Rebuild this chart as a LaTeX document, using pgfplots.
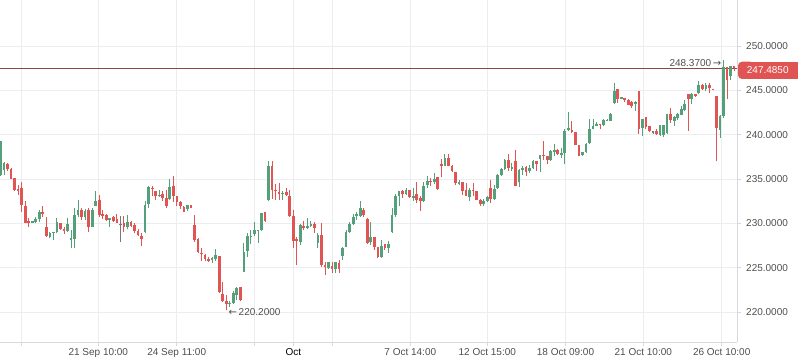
\documentclass[border=0pt]{standalone}
\usepackage{pgfplots}
\pgfplotsset{compat=1.18}
\usepackage{pgfplotstable}
\usepackage{fontspec}
\setmainfont{Liberation Sans}
\newfontfamily\dejavu{DejaVu Sans}
\definecolor{upc}{RGB}{83,160,122}
\definecolor{dnc}{RGB}{224,84,84}
\definecolor{linec}{RGB}{140,72,72}
\definecolor{flatc}{RGB}{120,120,120}
\definecolor{gridc}{RGB}{236,237,240}
\definecolor{axisc}{RGB}{214,218,224}
\definecolor{labc}{RGB}{78,78,78}
\definecolor{boxc}{RGB}{224,84,84}

% up candles: x open high low close
\pgfplotstableread{
x o h l c
0 235.50 239.30 235.30 239.27
1 235.99 236.90 235.50 236.82
9 230.15 230.30 230.10 230.22
10 230.18 230.71 230.03 230.48
11 230.52 231.54 230.22 231.31
14 228.52 229.09 228.33 228.94
15 229.00 229.09 228.14 229.05
16 229.01 230.60 228.90 230.14
19 229.20 230.60 229.09 229.92
20 228.10 229.28 227.28 228.41
21 228.30 231.73 227.28 230.93
22 230.97 232.67 230.71 231.54
24 230.71 231.61 230.41 231.42
26 229.65 231.80 229.60 231.50
27 231.99 233.70 231.99 232.56
31 230.50 230.60 229.65 230.60
36 229.65 230.97 229.35 230.22
41 229.09 232.48 228.90 232.10
42 232.18 234.18 231.80 234.06
45 233.10 233.80 232.97 233.25
48 232.75 235.00 232.60 234.06
53 231.61 232.10 231.46 232.10
60 226.00 226.18 225.58 226.10
61 225.96 227.12 225.80 226.44
65 221.00 221.32 220.60 221.05
66 221.05 222.41 220.97 222.18
67 221.92 222.86 221.35 222.79
69 224.56 227.84 224.56 226.83
70 226.94 228.90 226.26 228.60
71 228.56 229.28 227.69 228.60
72 228.82 230.22 228.60 229.28
73 229.20 229.28 227.84 229.28
74 229.28 231.20 229.20 231.16
76 232.67 237.08 232.48 236.52
80 233.35 233.61 232.60 233.42
85 227.96 229.95 227.58 229.84
87 229.62 230.60 229.35 229.70
88 229.84 230.33 229.58 229.88
90 227.77 228.90 227.20 228.71
93 224.94 225.69 224.83 225.69
95 224.83 225.69 224.37 225.69
97 226.33 227.39 225.88 227.28
98 227.39 229.28 227.31 229.09
99 229.09 230.22 228.90 229.95
100 229.95 231.09 229.84 230.78
101 230.86 231.35 230.41 231.05
102 230.86 232.48 230.78 231.73
105 227.96 230.22 227.58 228.52
108 226.26 228.14 226.07 227.46
110 227.20 228.03 226.71 227.69
111 229.09 231.73 228.97 230.97
112 230.97 233.31 230.78 233.12
113 233.05 233.69 231.92 233.69
115 233.35 233.95 233.20 233.80
117 233.00 233.99 232.56 233.05
120 232.56 234.63 232.37 234.18
121 234.29 235.38 233.99 234.82
123 234.67 235.69 234.44 235.05
126 236.52 237.87 236.44 237.38
130 234.44 234.93 234.29 234.63
133 232.97 233.99 232.48 233.73
137 232.18 232.75 231.99 232.56
138 232.48 233.10 232.37 232.97
140 232.80 234.30 232.60 233.90
141 233.99 235.57 233.88 235.49
142 235.49 236.25 235.31 236.17
143 236.17 237.27 236.06 237.19
145 236.18 236.82 235.87 236.36
147 234.63 236.14 234.10 236.06
148 236.14 236.52 235.50 236.25
150 235.87 236.63 235.68 236.25
151 236.25 237.19 236.14 237.00
153 237.31 237.76 235.76 237.76
156 237.12 238.25 237.00 238.14
157 238.06 239.00 237.57 238.25
159 237.85 238.51 237.38 237.90
160 237.95 240.59 236.70 240.47
161 240.68 242.59 240.40 240.72
165 237.68 238.02 237.57 238.02
166 238.02 239.08 237.95 238.96
167 239.08 241.79 239.00 240.59
168 240.59 241.79 240.59 240.96
169 241.13 241.45 241.04 241.17
171 241.08 241.72 240.96 241.61
172 241.60 241.80 241.50 241.70
173 241.60 242.47 241.53 242.36
174 243.60 245.79 243.49 244.92
176 244.13 244.28 243.98 244.17
180 243.57 243.79 242.66 243.60
182 240.78 241.79 239.91 241.72
187 240.02 241.15 239.91 241.15
188 239.95 241.15 239.72 241.15
189 240.21 242.36 240.10 242.29
191 241.60 242.10 240.96 241.98
192 241.83 242.47 241.68 242.36
193 242.28 243.23 242.17 242.85
194 242.77 243.87 242.66 243.49
196 243.98 244.74 243.42 244.62
198 244.74 246.06 244.55 245.57
200 245.11 245.87 244.92 245.60
204 240.59 242.17 239.64 242.10
205 242.10 248.37 241.90 247.64
207 246.62 247.75 246.13 247.75
}\up

% down candles
\pgfplotstableread{
x o h l c
2 236.70 236.82 235.90 236.17
3 236.17 236.20 235.00 235.05
4 235.08 235.10 233.70 233.73
5 233.85 234.36 233.24 233.75
6 234.03 234.63 231.35 232.10
7 231.99 232.48 230.03 230.11
8 230.25 230.60 229.65 230.15
12 231.31 231.99 230.71 231.09
13 229.62 230.71 228.52 228.60
17 230.03 230.10 229.28 229.39
18 229.36 229.65 228.78 229.28
23 231.54 231.73 230.41 230.75
25 231.50 231.80 229.09 229.65
28 232.67 233.24 230.71 230.93
29 231.05 231.54 230.48 230.86
30 230.97 231.09 230.33 230.41
32 230.75 230.86 230.22 230.33
33 230.48 231.09 230.03 230.11
35 230.03 230.80 229.09 229.58
37 230.22 230.30 229.65 229.77
38 229.84 230.03 228.90 229.16
39 229.16 229.35 228.60 228.71
40 228.63 228.90 227.50 228.26
43 234.00 234.18 233.12 233.93
44 233.69 233.69 232.67 233.05
46 233.31 233.61 232.48 232.86
47 232.86 233.80 231.73 231.92
49 234.18 235.31 232.37 233.05
50 233.05 233.05 231.99 232.37
51 232.37 232.48 231.61 231.92
52 231.88 231.99 231.24 231.31
54 232.14 232.14 231.69 231.76
55 229.84 230.97 227.96 228.14
56 228.29 228.33 226.63 226.82
57 226.70 227.20 225.80 226.63
58 226.44 226.56 225.80 226.03
59 225.96 226.25 225.70 225.88
62 226.33 226.33 222.20 222.30
63 222.10 223.43 221.17 221.28
64 221.24 221.92 220.20 220.90
68 222.79 222.86 221.28 221.36
75 231.24 231.24 230.20 230.29
77 236.52 237.08 232.75 233.80
78 233.76 234.44 232.60 233.70
79 233.54 234.56 232.67 233.27
81 233.50 233.99 233.05 233.16
82 233.12 233.72 230.78 230.86
83 230.86 231.54 227.20 228.07
84 228.20 228.45 225.30 228.10
86 229.70 230.33 229.28 229.62
89 229.95 230.22 228.97 229.54
91 228.71 230.10 225.13 225.32
92 225.25 225.69 224.18 225.20
94 225.20 225.69 224.37 224.83
96 225.58 225.88 224.45 224.83
103 231.54 231.73 230.78 230.97
104 230.48 230.60 227.69 227.84
106 228.45 228.45 227.01 227.39
107 227.39 227.39 226.07 226.18
109 227.69 227.69 227.01 227.20
114 233.69 233.80 232.86 233.35
116 233.73 233.80 232.86 232.97
118 233.35 234.67 232.29 232.67
119 232.86 233.05 231.46 232.48
122 234.78 235.12 234.18 234.70
124 235.20 235.20 233.80 233.88
125 236.65 237.31 235.20 236.60
127 237.38 237.87 236.44 236.52
128 236.44 236.63 235.80 235.87
129 235.84 235.84 234.37 234.55
131 234.63 234.63 233.24 233.61
132 233.80 234.55 233.05 233.05
134 233.76 234.55 233.12 233.69
135 233.61 233.61 232.60 232.67
136 232.60 232.75 231.99 232.18
139 234.00 234.90 232.30 232.80
144 237.19 237.87 235.87 236.25
146 237.00 238.32 234.18 234.25
149 236.33 236.44 235.38 235.76
152 237.00 237.00 235.87 236.70
154 237.76 239.27 237.19 237.57
155 237.65 237.65 236.70 237.12
158 238.32 238.40 237.68 237.87
162 240.59 241.60 240.21 240.28
163 240.28 240.28 238.81 238.89
164 238.89 238.89 237.57 237.65
170 241.23 241.23 240.59 241.08
175 245.11 245.11 243.60 243.98
177 244.17 244.17 243.68 243.90
178 243.87 243.98 243.30 243.34
179 243.72 243.79 243.04 243.23
181 244.92 244.92 240.13 240.60
183 241.98 241.98 240.59 240.89
184 240.96 241.04 240.32 240.47
186 240.47 240.59 239.95 240.10
190 242.29 243.04 241.34 241.64
195 244.55 244.62 240.47 243.98
197 244.55 244.62 244.24 244.50
199 245.60 245.68 245.00 245.11
201 245.60 245.87 244.74 245.23
202 245.13 245.15 245.05 245.11
203 244.36 244.36 237.00 240.77
206 247.64 247.64 243.98 246.13
208 247.75 247.75 247.20 247.49
}\dn

% unchanged (doji) candles
\pgfplotstableread{
x o h l c
34 229.90 230.86 227.96 229.90
185 240.32 240.47 240.10 240.32
}\flat

\begin{document}
\begin{tikzpicture}
\useasboundingbox (0,0) rectangle (798pt,363pt);
\begin{axis}[
  at={(0pt,21pt)}, anchor=south west,
  scale only axis, width=737pt, height=342pt,
  xmin=-0.142, xmax=208.82, ymin=216.65, ymax=255.18,
  axis x line*=bottom, axis y line*=right,
  axis line style={draw=axisc, line width=0.8pt},
  xtick={6.01,27.73,49.96,71.96,83.02,94.08,116.19,138.02,160.19,182.25,204.48},
  xticklabels={,21 Sep 10:00,24 Sep 11:00,,\textcolor{black}{Oct},,7 Oct 14:00,12 Oct 15:00,18 Oct 09:00,21 Oct 10:00,26 Oct 10:00},
  ytick={220,225,230,235,240,245,250},
  yticklabels={220.0000,225.0000,230.0000,235.0000,240.0000,245.0000,250.0000},
  tick align=outside, major tick length=4pt,
  tick style={draw=axisc, line width=0.8pt},
  grid=major, major grid style={draw=gridc, line width=0.8pt},
  ticklabel style={font=\fontsize{10}{12}\selectfont, text=labc},
  xticklabel style={anchor=north, inner sep=0pt, yshift=-2pt},
  yticklabel style={anchor=west, inner sep=0pt, xshift=5pt},
]
% current price line
\addplot[draw=linec, line width=0.65pt, forget plot] coordinates {(-1,247.485) (210,247.485)};
% wicks
\addplot[draw=none, mark=none, forget plot, error bars/.cd, y dir=plus, y explicit, error mark=none, error bar style={draw=upc, line width=0.9pt}]
  table[x=x, y=l, y error expr=\thisrow{h}-\thisrow{l}] {\up};
\addplot[draw=none, mark=none, forget plot, error bars/.cd, y dir=plus, y explicit, error mark=none, error bar style={draw=dnc, line width=0.9pt}]
  table[x=x, y=l, y error expr=\thisrow{h}-\thisrow{l}] {\dn};
\addplot[draw=none, mark=none, forget plot, error bars/.cd, y dir=plus, y explicit, error mark=none, error bar style={draw=flatc, line width=0.9pt}]
  table[x=x, y=l, y error expr=\thisrow{h}-\thisrow{l}] {\flat};
% bodies
\addplot[draw=none, mark=none, forget plot, error bars/.cd, y dir=both, y explicit, error mark=none, error bar style={draw=upc, line width=2.7pt}]
  table[x=x, y expr=(\thisrow{o}+\thisrow{c})/2, y error expr={max(abs(\thisrow{c}-\thisrow{o})/2,0.06)}] {\up};
\addplot[draw=none, mark=none, forget plot, error bars/.cd, y dir=both, y explicit, error mark=none, error bar style={draw=dnc, line width=2.7pt}]
  table[x=x, y expr=(\thisrow{o}+\thisrow{c})/2, y error expr={max(abs(\thisrow{c}-\thisrow{o})/2,0.06)}] {\dn};
\addplot[draw=none, mark=none, forget plot, error bars/.cd, y dir=both, y explicit, error mark=none, error bar style={draw=flatc, line width=2.7pt}]
  table[x=x, y expr=(\thisrow{o}+\thisrow{c})/2, y error expr={max(abs(\thisrow{c}-\thisrow{o})/2,0.06)}] {\flat};
\end{axis}
% last price label
\fill[boxc] (746pt,284pt) rectangle (798pt,301.3pt);
\fill[boxc, rounded corners=4pt] (738pt,284pt) rectangle (754pt,301.3pt);
\node[anchor=west, inner sep=0pt, text=white, font=\fontsize{10}{12}\selectfont] at (746.7pt,292.7pt) {247.4850};
% high / low annotations
\node[anchor=west, inner sep=0pt, text=labc, font=\fontsize{10}{12}\selectfont] at (669.3pt,299.7pt) {248.3700\,{\dejavu →}};
\node[anchor=west, inner sep=0pt, text=labc, font=\fontsize{10}{12}\selectfont] at (228.5pt,50.7pt) {{\dejavu ←}\,220.2000};
\end{tikzpicture}
\end{document}
